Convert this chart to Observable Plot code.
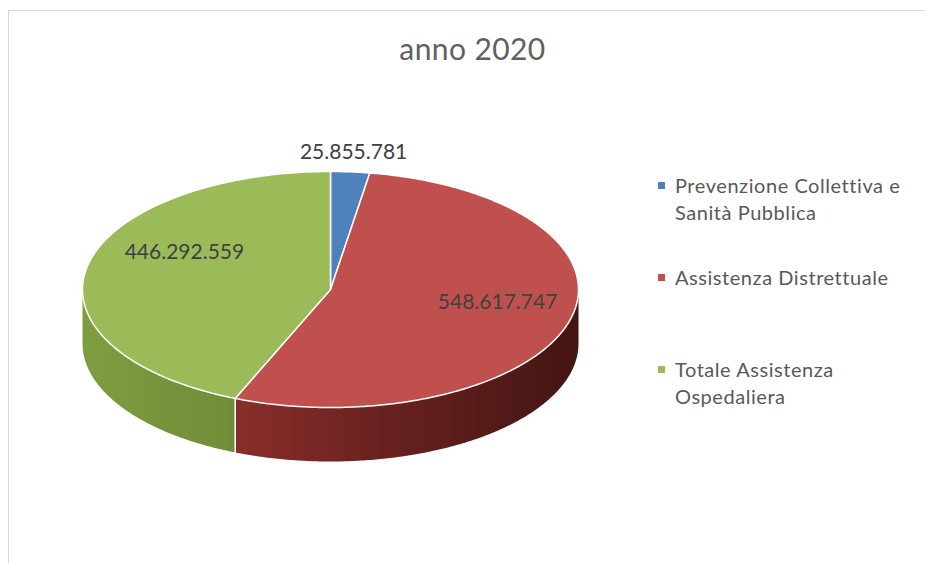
<!DOCTYPE html>
<html>
<head>
<meta charset="utf-8">
<script src="https://cdn.jsdelivr.net/npm/d3@7"></script>
<script src="https://cdn.jsdelivr.net/npm/@observablehq/plot@0.6"></script>
<style>
  html, body { margin: 0; padding: 0; background: #fff; }
  #wrap { position: relative; width: 925px; height: 563px; overflow: hidden; font-family: Lato, "Open Sans", sans-serif; }
  #frame { position: absolute; left: 8px; top: 10px; width: 940px; height: 600px; border: 1px solid #d9d9d9; box-sizing: border-box; }
  #title { position: absolute; left: 0; width: 945px; top: 30px; text-align: center; font-size: 30px; color: #606060; letter-spacing: 0.4px; }
  #chart { position: absolute; left: 0; top: 0; }
  #legend { position: absolute; left: 658px; top: 172px; color: #595959; font-size: 20px; letter-spacing: 0.55px; line-height: 27px; }
  .item { position: absolute; left: 0; white-space: nowrap; }
  .sw { position: absolute; left: 0; top: 10px; width: 7px; height: 7px; }
  .lbl { position: absolute; left: 17px; top: 0; }
</style>
</head>
<body>
<div id="wrap">
  <div id="frame"></div>
  <div id="title">anno 2020</div>
  <div id="chart"></div>
  <div id="legend"></div>
</div>
<script>
// ---- data ----
const categories = ["Prevenzione Collettiva e Sanità Pubblica", "Assistenza Distrettuale", "Totale Assistenza Ospedaliera"];
const legendLines = [["Prevenzione Collettiva e", "Sanità Pubblica"], ["Assistenza Distrettuale"], ["Totale Assistenza", "Ospedaliera"]];
const values = [25855781, 548617747, 446292559];
const valueLabels = ["25.855.781", "548.617.747", "446.292.559"];
const topColors = ["#4F81BD", "#C0504D", "#9BBB59"];

// ---- geometry (3D ellipse projection) ----
const W = 925, H = 563;
const cx = 330, cy = 289, rx = 248, ry = 118, depth = 54;
const pie = d3.pie().sort(null).value(d => d.value);
const data = categories.map((c, i) => ({cat: c, value: values[i], label: valueLabels[i], i}));
const arcs = pie(data);
const pt = (a, dz = 0) => [cx + rx * Math.sin(a), cy - ry * Math.cos(a) + dz];
function arcPts(a0, a1, dz = 0) {
  const n = Math.max(2, Math.ceil(Math.abs(a1 - a0) / 0.01));
  return d3.range(n + 1).map(k => pt(a0 + (a1 - a0) * k / n, dz));
}
const topPolys = [], sidePolys = [], sideEdges = [];
arcs.forEach(a => {
  const pts = [[cx, cy], ...arcPts(a.startAngle, a.endAngle), [cx, cy]];
  pts.forEach(([x, y], k) => topPolys.push({id: a.data.i, x, y, k}));
  const s0 = Math.max(a.startAngle, Math.PI / 2), s1 = Math.min(a.endAngle, 3 * Math.PI / 2);
  if (s0 < s1) {
    const sp = [...arcPts(s0, s1), ...arcPts(s1, s0, depth)];
    sp.push(sp[0]);
    sp.forEach(([x, y], k) => sidePolys.push({id: a.data.i, x, y, k}));
  }
});
// vertical side edge at slice boundary inside the visible range
arcs.forEach(a => {
  const b = a.endAngle;
  if (b > Math.PI / 2 && b < 3 * Math.PI / 2) {
    const [x0, y0] = pt(b), [x1, y1] = pt(b, depth);
    sideEdges.push({id: a.data.i, x: x0, y: y0}, {id: a.data.i, x: x1, y: y1});
  }
});
// label placement: inside labels on mid-angle, small slice placed outside
const labelPos = arcs.map(a => {
  const m = (a.startAngle + a.endAngle) / 2;
  const frac = (a.endAngle - a.startAngle) / (2 * Math.PI);
  const [x, y] = pt(m);
  if (frac < 0.05) return {x: cx + (x - cx) * 1.17, y: cy + (y - cy) * 1.17, label: a.data.label};
  return {x: cx + (x - cx) * 0.65 + 12, y: cy + (y - cy) * 0.65 * 1.39 - 16, label: a.data.label};
});

const sideGrad = ["gB", "gR", "gG"];
const marks = [];
[0, 1, 2].forEach(i => {
  const d = sidePolys.filter(p => p.id === i);
  if (d.length) marks.push(Plot.line(d, {x: "x", y: "y", fill: `url(#${sideGrad[i]})`, stroke: "none", curve: "linear"}));
});
marks.push(Plot.line(sideEdges, {x: "x", y: "y", z: "id", stroke: "#fff", strokeWidth: 1.5}));
[0, 1, 2].forEach(i => {
  const d = topPolys.filter(p => p.id === i);
  marks.push(Plot.line(d, {x: "x", y: "y", fill: topColors[i], stroke: "#fff", strokeWidth: 1.5, strokeLinejoin: "round"}));
});
marks.push(Plot.text(labelPos, {x: "x", y: "y", text: "label", fill: "#404040", fontSize: 21, fontFamily: "Lato"}));

const chart = Plot.plot({
  width: W, height: H,
  margin: 0,
  x: {domain: [0, W], range: [0, W], axis: null},
  y: {domain: [0, H], range: [0, H], axis: null},
  style: {background: "transparent", overflow: "visible"},
  marks
});
// gradients for the 3D rims
const svg = d3.select(chart);
const defs = svg.insert("defs", ":first-child");
function grad(id, stops) {
  const g = defs.append("linearGradient").attr("id", id).attr("gradientUnits", "userSpaceOnUse")
    .attr("x1", cx - rx).attr("x2", cx + rx).attr("y1", 0).attr("y2", 0);
  stops.forEach(([o, c]) => g.append("stop").attr("offset", o).attr("stop-color", c));
}
grad("gB", [[0, "#3a6191"], [1, "#1f3550"]]);
grad("gR", [[0, "#8f302d"], [0.3, "#8a2e2b"], [0.6, "#6a2220"], [1, "#431513"]]);
grad("gG", [[0, "#7e9d40"], [0.3, "#718d38"], [1, "#5a722b"]]);
document.getElementById("chart").appendChild(chart);

// legend
const leg = document.getElementById("legend");
const tops = [0, 92, 184];
legendLines.forEach((lines, i) => {
  const it = document.createElement("div");
  it.className = "item"; it.style.top = tops[i] + "px";
  it.innerHTML = `<div class="sw" style="background:${topColors[i]}"></div><div class="lbl">${lines.join("<br>")}</div>`;
  leg.appendChild(it);
});
</script>
</body>
</html>
